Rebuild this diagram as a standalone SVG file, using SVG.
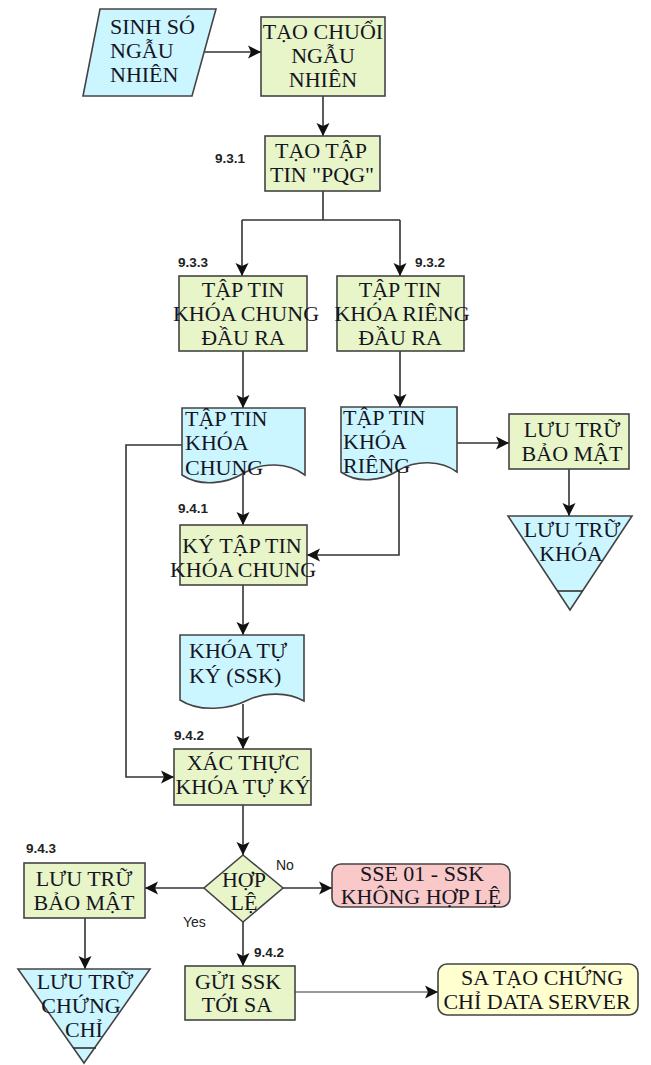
<svg xmlns="http://www.w3.org/2000/svg" width="651" height="1065" viewBox="0 0 651 1065">
<defs>
<marker id="ah" markerUnits="userSpaceOnUse" markerWidth="14" markerHeight="14" refX="13" refY="7" orient="auto">
<path d="M0,0.5 L13,7 L0,13.5 L3,7 z" fill="#111"/>
</marker>
<style>
.g{fill:#e8f5c8;stroke:#444;stroke-width:1.6}
.c{fill:#ccf6ff;stroke:#444;stroke-width:1.6}
.p{fill:#f9c9c9;stroke:#444;stroke-width:1.6}
.y{fill:#ffffd0;stroke:#444;stroke-width:1.6}
.t{font-family:"Liberation Serif","Times New Roman",serif;font-size:22px;fill:#15151f}
.m{text-anchor:middle}
.n{font-family:"Liberation Sans",Arial,sans-serif;font-size:13.5px;font-weight:bold;fill:#222}
.l{font-family:"Liberation Sans",Arial,sans-serif;font-size:14px;fill:#222}
.e{fill:none;stroke:#333;stroke-width:1.6;marker-end:url(#ah)}
.f{fill:none;stroke:#333;stroke-width:1.6}
</style>
</defs>
<rect width="651" height="1065" fill="#fff"/>
<g id="connectors">
<path class="e" d="M204,52 H261"/>
<path class="e" d="M323,96 V136"/>
<path class="f" d="M323,191 V220 M242,220 H400"/>
<path class="e" d="M242,220 V276"/>
<path class="e" d="M400,220 V276"/>
<path class="e" d="M243,351 V408"/>
<path class="e" d="M400,351 V407"/>
<path class="e" d="M457,443 H509"/>
<path class="e" d="M569,469 V516"/>
<path class="e" d="M182,445 H126 V777 H174"/>
<path class="e" d="M243,472 V525"/>
<path class="e" d="M399,470 V555 H307"/>
<path class="e" d="M243,585 V635"/>
<path class="e" d="M243,704 V749"/>
<path class="e" d="M243,805 V855"/>
<path class="e" d="M204,888 H145"/>
<path class="e" d="M283,888 H332"/>
<path class="e" d="M243,922 V966"/>
<path class="e" d="M85,918 V969"/>
<path class="e" d="M295,992 H438" style="stroke:#777;stroke-width:1.3"/>
</g>
<g id="n-sinh">
<path class="c" d="M100,9 H216 L192,96 H83 Z"/>
<text class="t" x="110" y="34">SINH SÓ</text>
<text class="t" x="110" y="58">NGẪU</text>
<text class="t" x="110" y="82">NHIÊN</text>
</g>
<g id="n-chuoi">
<rect class="g" x="261" y="17" width="124" height="79"/>
<text class="t m" x="323" y="39">TẠO CHUỔI</text>
<text class="t m" x="323" y="63">NGẪU</text>
<text class="t m" x="323" y="87">NHIÊN</text>
</g>
<g id="n-pqg">
<rect class="g" x="265" y="136" width="115" height="55"/>
<text class="t m" x="321" y="158">TẠO TẬP</text>
<text class="t m" x="322" y="182">TIN "PQG"</text>
<text class="n" x="215" y="163">9.3.1</text>
</g>
<g id="n-chung-out">
<rect class="g" x="179" y="276" width="128" height="75"/>
<text class="t m" x="243" y="297">TẬP TIN</text>
<text class="t m" x="246" y="321">KHÓA CHUNG</text>
<text class="t m" x="243" y="345">ĐẦU RA</text>
<text class="n" x="178" y="267">9.3.3</text>
</g>
<g id="n-rieng-out">
<rect class="g" x="337" y="276" width="127" height="75"/>
<text class="t m" x="400" y="297">TẬP TIN</text>
<text class="t m" x="402" y="321">KHÓA RIÊNG</text>
<text class="t m" x="400" y="345">ĐẦU RA</text>
<text class="n" x="415" y="267">9.3.2</text>
</g>
<g id="n-chung-file">
<path class="c" d="M182,408 H305 V475 C288,462 262,462 244,473 C226,484 200,487 182,475 Z"/>
<text class="t" x="185" y="426">TẬP TIN</text>
<text class="t" x="185" y="450">KHÓA</text>
<text class="t" x="185" y="475">CHUNG</text>
</g>
<g id="n-rieng-file">
<path class="c" d="M341,407 H457 V472 C441,460 416,460 399,470 C382,481 358,484 341,472 Z"/>
<text class="t" x="343" y="425">TẬP TIN</text>
<text class="t" x="343" y="449">KHÓA</text>
<text class="t" x="343" y="473">RIÊNG</text>
</g>
<g id="n-luutru-bm1">
<rect class="g" x="509" y="414" width="120" height="55"/>
<text class="t m" x="572" y="437">LƯU TRỮ</text>
<text class="t m" x="572" y="461">BẢO MẬT</text>
</g>
<g id="n-luutru-khoa">
<path class="c" d="M508,516 H632 L570,610 Z"/>
<path class="f" d="M557,591 H583"/>
<text class="t m" x="572" y="537">LƯU TRỮ</text>
<text class="t m" x="571" y="561">KHÓA</text>
</g>
<g id="n-ky">
<rect class="g" x="180" y="525" width="127" height="60"/>
<text class="t m" x="242" y="553">KÝ TẬP TIN</text>
<text class="t m" x="243" y="577">KHÓA CHUNG</text>
<text class="n" x="178" y="513">9.4.1</text>
</g>
<g id="n-ssk">
<path class="c" d="M180,635 H304 V701 C288,692 265,692 248,700 C230,709 200,713 180,700 Z"/>
<text class="t" x="189" y="658">KHÓA TỰ</text>
<text class="t" x="189" y="683">KÝ (SSK)</text>
</g>
<g id="n-xacthuc">
<rect class="g" x="174" y="749" width="137" height="56"/>
<text class="t m" x="243" y="770">XÁC THỰC</text>
<text class="t m" x="243" y="794">KHÓA TỰ KÝ</text>
<text class="n" x="174" y="740">9.4.2</text>
</g>
<g id="n-hople">
<path class="g" d="M243,855 L283,888 L243,922 L204,888 Z"/>
<text class="t m" x="244" y="887">HỢP</text>
<text class="t m" x="244" y="910">LỆ</text>
<text class="l" x="276" y="870">No</text>
<text class="l" x="183" y="927">Yes</text>
</g>
<g id="n-luutru-bm2">
<rect class="g" x="24" y="863" width="121" height="55"/>
<text class="t m" x="84" y="886">LƯU TRỮ</text>
<text class="t m" x="84" y="910">BẢO MẬT</text>
<text class="n" x="26" y="853">9.4.3</text>
</g>
<g id="n-luutru-cc">
<path class="c" d="M18,969 H150 L84,1063 Z"/>
<path class="f" d="M73,1048 H96"/>
<text class="t m" x="85" y="989">LƯU TRỮ</text>
<text class="t m" x="81" y="1013">CHỨNG</text>
<text class="t m" x="84" y="1037">CHỈ</text>
</g>
<g id="n-sse">
<rect class="p" x="332" y="864" width="178" height="43" rx="9"/>
<text class="t m" x="422" y="881">SSE 01 - SSK</text>
<text class="t m" x="421" y="904">KHÔNG HỢP LỆ</text>
</g>
<g id="n-gui">
<rect class="g" x="185" y="966" width="110" height="54"/>
<text class="t m" x="238" y="989">GỬI SSK</text>
<text class="t m" x="237" y="1012">TỚI SA</text>
<text class="n" x="254" y="957">9.4.2</text>
</g>
<g id="n-sa">
<rect class="y" x="438" y="964" width="200" height="51" rx="9"/>
<text class="t m" x="542" y="985">SA TẠO CHỨNG</text>
<text class="t m" x="537" y="1009">CHỈ DATA SERVER</text>
</g>
</svg>
